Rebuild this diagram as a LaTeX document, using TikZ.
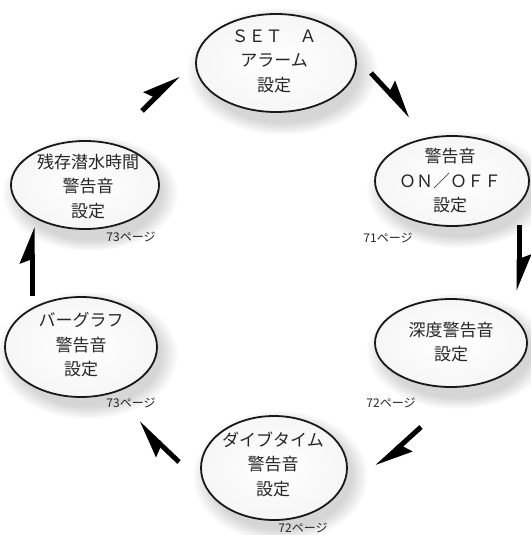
\documentclass[tikz,border=0pt]{standalone}
\usepackage{fontspec}
\newfontfamily\cjk{Noto Sans CJK JP}
\usetikzlibrary{shapes.geometric,arrows.meta,fadings}
\begin{document}
\begin{tikzpicture}[x=1pt,y=-1pt,
  ell/.style={draw=black!90, line width=1.8pt, ellipse, inner sep=0pt, inner color=white, outer color=gray!7},
  halo/.style={fill=gray!32, path fading=circle with fuzzy edge 20 percent},
  lbl/.style={font=\cjk\fontsize{17}{24.5}\selectfont, text=black!85, align=center, inner sep=0pt},
  pg/.style={font=\cjk\fontsize{12}{12}\selectfont, text=black!85, inner sep=0pt},
  arr/.style={line width=5pt, -{Stealth[harpoon,length=30pt,width=24pt,inset=4pt]}}
]
\useasboundingbox (0,0) rectangle (530,535);
% halos
\fill[halo] (282,71) ellipse (96pt and 64pt);
\fill[halo] (458,189) ellipse (92pt and 59pt);
\fill[halo] (457,351) ellipse (91pt and 58pt);
\fill[halo] (280,476) ellipse (88pt and 66pt);
\fill[halo] (87,355) ellipse (91pt and 64pt);
\fill[halo] (90,193) ellipse (88pt and 58pt);
% ellipses
\node[ell, minimum width=160pt, minimum height=98pt] (e1) at (276,63) {};
\node[ell, minimum width=154pt, minimum height=90pt] (e2) at (452,181) {};
\node[ell, minimum width=152pt, minimum height=88pt] (e3) at (451,343) {};
\node[ell, minimum width=146pt, minimum height=104pt] (e4) at (274,468) {};
\node[ell, minimum width=152pt, minimum height=100pt] (e5) at (81,347) {};
\node[ell, minimum width=148pt, minimum height=88pt] (e6) at (85,185) {};
% texts
\node[lbl] (t1) at (274,61) {ＳＥＴ　Ａ\\アラーム\\設定};
\node[lbl] (t2) at (450,181) {警告音\\ＯＮ／ＯＦＦ\\設定};
\node[lbl] (t3) at (451,342) {深度警告音\\設定};
\node[lbl] (t4) at (273,464) {ダイブタイム\\警告音\\設定};
\node[lbl] (t5) at (81,345) {バーグラフ\\警告音\\設定};
\node[lbl] (t6) at (88,186) {残存潜水時間\\警告音\\設定};
% page labels
\node[pg] (p1) at (388,238) {71ページ};
\node[pg] (p2) at (391,403) {72ページ};
\node[pg] (p3) at (303,528) {72ページ};
\node[pg] (p4) at (131,403) {73ページ};
\node[pg] (p5) at (131,237) {73ページ};
% arrows
\coordinate (a1s) at (142,111); \coordinate (a1e) at (178,75);
\coordinate (a2s) at (371,73);  \coordinate (a2e) at (411,116);
\coordinate (a3s) at (519,225); \coordinate (a3e) at (519,291);
\coordinate (a4s) at (421,427); \coordinate (a4e) at (377,467);
\coordinate (a5s) at (179,462); \coordinate (a5e) at (138,423);
\coordinate (a6s) at (32,296);  \coordinate (a6e) at (32,227);
\draw[arr] (a1s) -- (a1e);
\draw[arr] (a2s) -- (a2e);
\draw[arr] (a3s) -- (a3e);
\draw[arr] (a4s) -- (a4e);
\draw[arr] (a5s) -- (a5e);
\draw[arr] (a6s) -- (a6e);
\end{tikzpicture}
\end{document}
